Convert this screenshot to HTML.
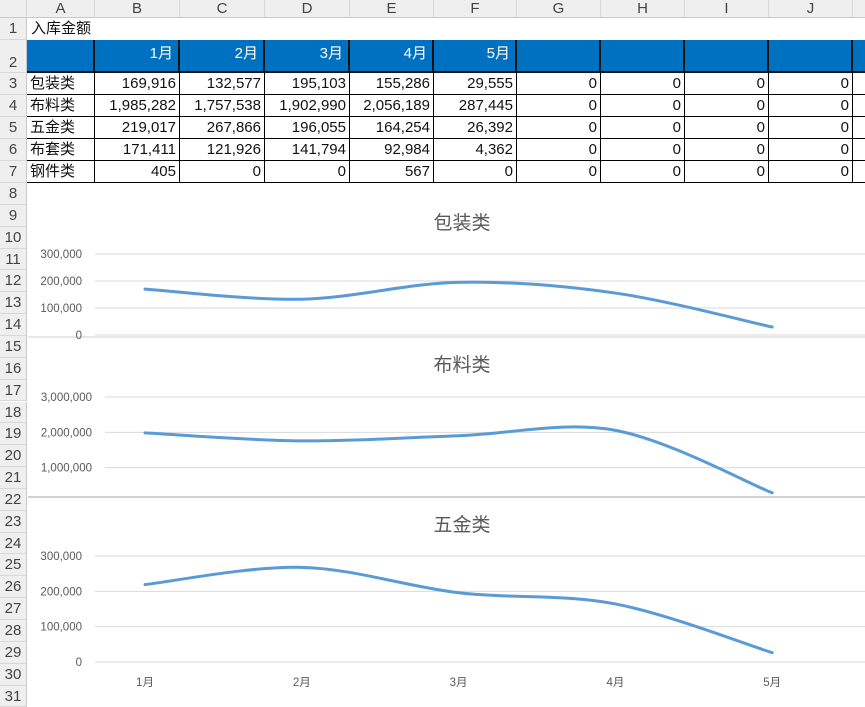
<!DOCTYPE html>
<html><head><meta charset="utf-8">
<style>
body{margin:0;width:865px;height:692px;overflow:hidden;background:#fff;font-family:"Liberation Sans","Noto Sans CJK SC",sans-serif;position:relative}
.a{position:absolute;box-sizing:border-box}
.ch{background:#efefef;color:#444;font-size:15px;text-align:center;line-height:18px;border-right:1px solid #d8d8d8;border-bottom:1px solid #c8c8c8}
.rh{background:#efefef;color:#444;font-size:15px;text-align:center;border-bottom:1px solid #d8d8d8;border-right:1px solid #c8c8c8}
.c{font-size:15px;color:#111;padding:0 3px;text-align:right;border-right:1px solid #000;border-bottom:1px solid #000;line-height:21px;white-space:nowrap}
.h{background:#0070c0;color:#fff;font-size:15px;text-align:right;padding:2px 5px 0 0;border-right:2px solid #111;border-bottom:2px solid #111}
</style></head><body>
<div id="grid"></div>
<svg id="charts" class="a" style="left:28px;top:195px" width="837" height="497"></svg>
<script>
const cols=[["A",27,95],["B",95,180],["C",180,265],["D",265,350],["E",350,434],["F",434,517],["G",517,601],["H",601,685],["I",685,769],["J",769,853],["K",853,900]];
const rowsB=[18,40,73,95,117,139,161,183];
const cats=["包装类","布料类","五金类","布套类","钢件类"];
const months=["1月","2月","3月","4月","5月"];
const tbl=[[169916,132577,195103,155286,29555],[1985282,1757538,1902990,2056189,287445],[219017,267866,196055,164254,26392],[171411,121926,141794,92984,4362],[405,0,0,567,0]];
const g=document.getElementById('grid');
function div(cls,x,y,w,h,t,name,inter){const d=document.createElement('div');d.className='a '+cls;d.style.cssText=`left:${x}px;top:${y}px;width:${w}px;height:${h}px`;d.textContent=t||'';


g.appendChild(d);return d;}
div('ch',0,0,27,18,'','select-all',true);
cols.forEach(c=>div('ch',c[1],0,c[2]-c[1],18,c[0],'column-header-'+c[0].toLowerCase(),true));
// row headers
const rh=[[1,18,40],[2,40,73]];for(let i=0;i<5;i++)rh.push([3+i,rowsB[2+i],rowsB[3+i]]);
for(let r=8;r<=31;r++){const y=183+(r-8)*21.85;rh.push([r,y,y+21.85]);}
rh.forEach(r=>{const d=div('rh',0,r[1],27,r[2]-r[1],r[0],'row-header-'+r[0],true);d.style.lineHeight=(r[0]==2?48:(r[2]-r[1]))+'px';if(r[0]==2)d.style.lineHeight='46px';});
// row 1 title
const t=div('c',27,18,400,22,'入库金额','sheet-title',true);t.style.cssText+=';border:none;text-align:left;padding-left:4px;line-height:22px';
// header row
div('h',27,40,68,33,'','header-blank',true);
for(let i=1;i<cols.length;i++){const d=div('h',cols[i][1],40,cols[i][2]-cols[i][1],33,i<=5?months[i-1]:'','header-'+cols[i][0].toLowerCase(),true);}
for(let r=0;r<5;r++){const y=rowsB[2+r],h=rowsB[3+r]-y;
const a=div('c',27,y,68,h,cats[r],'category-'+(r+1),true);a.style.textAlign='left';a.style.borderLeft='none';
for(let i=1;i<cols.length;i++){const v=i<=5?tbl[r][i-1]:0;div('c',cols[i][1],y,cols[i][2]-cols[i][1],h,i<cols.length-1?v.toLocaleString('en-US'):'','cell-'+cols[i][0].toLowerCase()+(r+3),true);}}
// charts
const bz=[169916,132577,195103,155286,29555];
const bl=[1985282,1757538,1902990,2056189,287445];
const wj=[219017,267866,196055,164254,26392];
const ticks1=[0,100000,200000,300000];
const ticks2=[1000000,2000000,3000000];
const ticks3=[0,100000,200000,300000];
const NS='http://www.w3.org/2000/svg';const svg=document.getElementById('charts');
function el(tag,at,name){const e=document.createElementNS(NS,tag);for(const k in at)e.setAttribute(k,at[k]);


svg.appendChild(e);return e;}
const OX=-28,OY=-195;
const xs=i=>145+i*156.8;
function chart(cfg){
 const{top,bot,titleY,title,vals,ticks,max,lblX,gx,key}=cfg;
 if(cfg.border)el('line',{x1:0,x2:837,y1:bot+OY+2,y2:bot+OY+2,stroke:'#d0d0d0','stroke-width':1},key+'-border');
 const y=v=>top+(bot-top)*(1-v/max)+OY;
 el('text',{x:462+OX,y:titleY+OY,'font-size':19,fill:'#595959','text-anchor':'middle','font-family':'Liberation Sans,Noto Sans CJK SC,sans-serif'},key+'-title').textContent=title;
 ticks.forEach(t=>{el('line',{x1:gx+OX,x2:865+OX,y1:y(t),y2:y(t),stroke:'#d9d9d9','stroke-width':1},key+'-gridline');
 el('text',{x:lblX+OX,y:y(t)+4,'font-size':11.5,fill:'#595959','text-anchor':'end'},key+'-y-tick').textContent=t.toLocaleString('en-US');});
 const p=vals.map((v,i)=>[xs(i)+OX,y(v)]);
 let d=`M${p[0][0]},${p[0][1]}`;
 for(let i=0;i<p.length-1;i++){const p0=p[i-1]||p[i],p1=p[i],p2=p[i+1],p3=p[i+2]||p2;
 d+=`C${p1[0]+(p2[0]-p0[0])/6},${p1[1]+(p2[1]-p0[1])/6} ${p2[0]-(p3[0]-p1[0])/6},${p2[1]-(p3[1]-p1[1])/6} ${p2[0]},${p2[1]}`;}
 el('path',{d,fill:'none',stroke:'#5b9bd5','stroke-width':3,'stroke-linecap':'round'},key+'-line');
 if(cfg.xlabels)months.forEach((m,i)=>el('text',{x:xs(i)+OX,y:686+OY,'font-size':11.5,fill:'#595959','text-anchor':'middle'},key+'-x-label').textContent=m);
}
chart({key:'chart-baozhuang',top:254,bot:335,titleY:229,title:'包装类',vals:bz,ticks:ticks1,max:300000,lblX:82,gx:95,border:true});
el('rect',{x:0,y:338+OY+3,width:837,height:160,fill:'#fff'},'chart2-bg');
chart({key:'chart-buliao',top:397,bot:503,titleY:371,title:'布料类',vals:bl,ticks:ticks2,max:3000000,lblX:92,gx:105,border:false});
el('rect',{x:0,y:497+OY,width:837,height:200,fill:'#fff'},'chart3-bg');
el('line',{x1:0,x2:837,y1:497+OY,y2:497+OY,stroke:'#d0d0d0','stroke-width':2},'chart2-border');
chart({key:'chart-wujin',top:556,bot:662,titleY:531,title:'五金类',vals:wj,ticks:ticks3,max:300000,lblX:82,gx:95,xlabels:true});
</script>
</body></html>
